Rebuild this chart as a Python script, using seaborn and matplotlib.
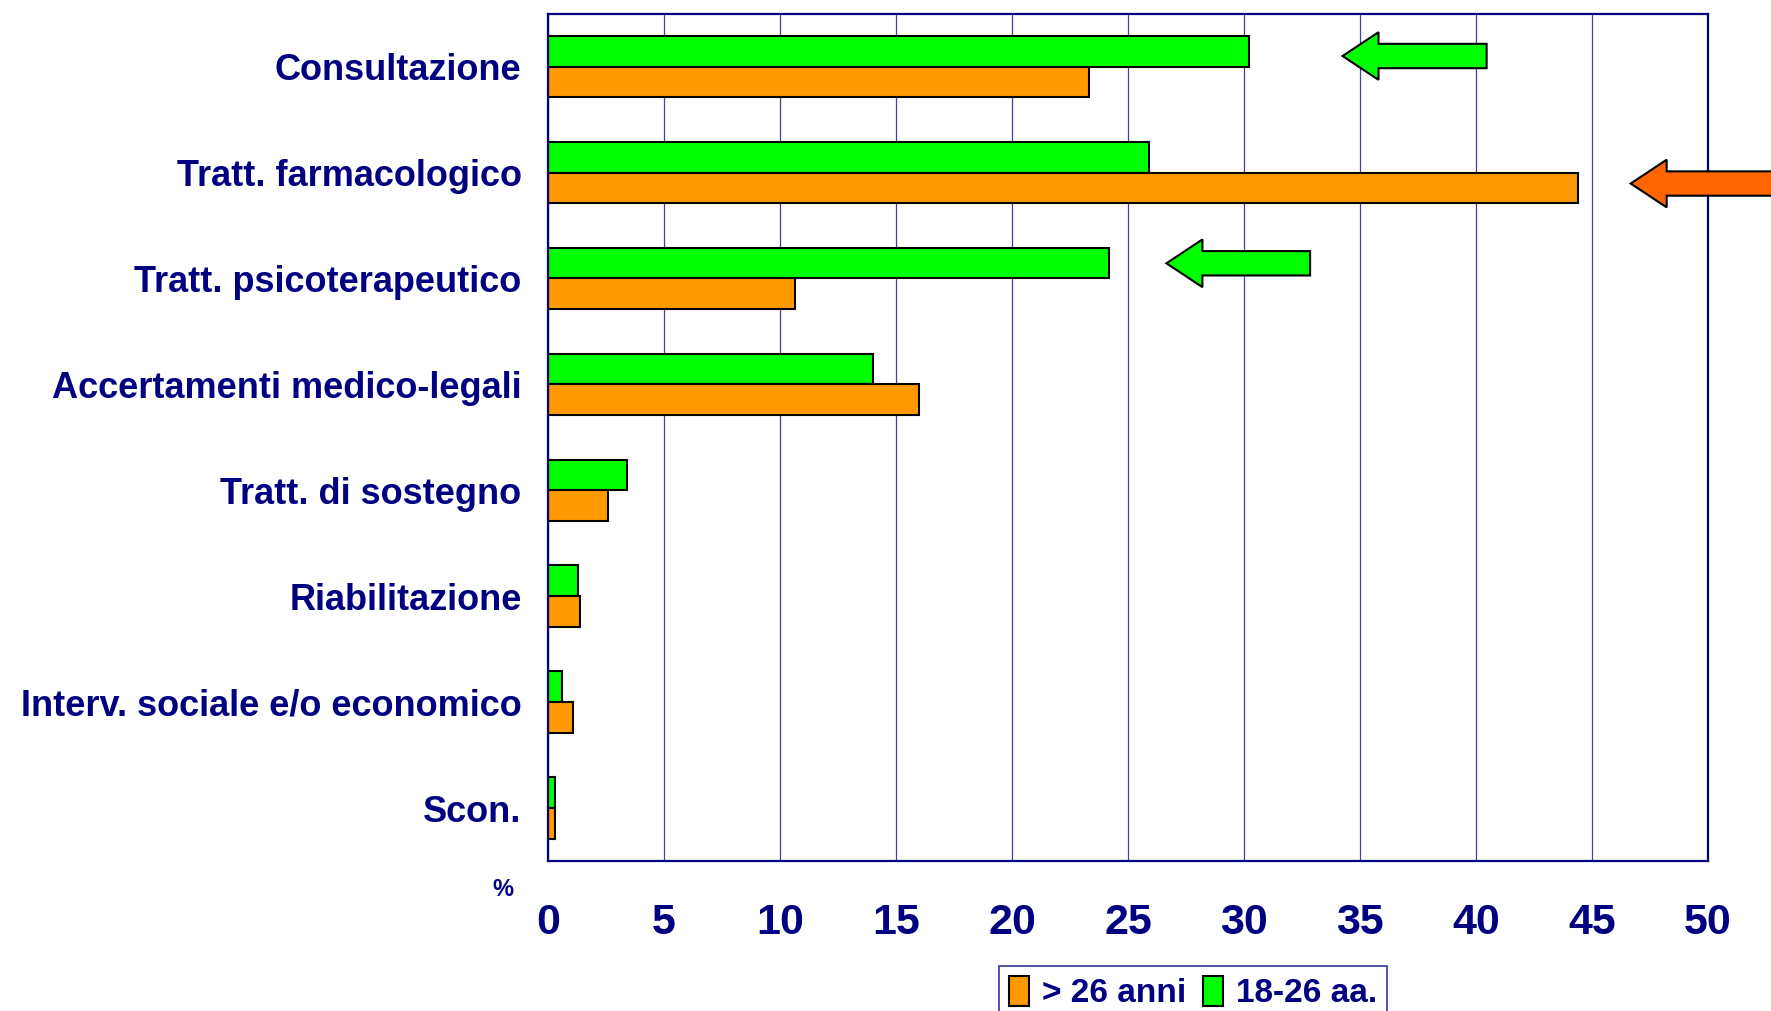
import matplotlib
matplotlib.use('Agg')
from matplotlib import pyplot as plt
from matplotlib.patches import FancyArrow, Patch
import seaborn as sns
import pandas as pd

categorie = ['Consultazione', 'Tratt. farmacologico', 'Tratt. psicoterapeutico',
             'Accertamenti medico-legali', 'Tratt. di sostegno', 'Riabilitazione',
             'Interv. sociale e/o economico', 'Scon.']
giovani = [30.2, 25.9, 24.2, 14.0, 3.4, 1.3, 0.6, 0.3]    # 18-26 aa.
adulti = [23.3, 44.4, 10.65, 16.0, 2.6, 1.4, 1.1, 0.3]    # > 26 anni
gruppi = ['18-26 aa.', '> 26 anni']
xticks = [0, 5, 10, 15, 20, 25, 30, 35, 40, 45, 50]

NAVY = '#000080'
colori = {'18-26 aa.': '#00FF00', '> 26 anni': '#FF9900'}

df = pd.DataFrame({
    'categoria': categorie * 2,
    'valore': giovani + adulti,
    'gruppo': [gruppi[0]] * len(categorie) + [gruppi[1]] * len(categorie),
})

sns.set_style('white')
plt.rcParams['font.family'] = ['Liberation Sans', 'DejaVu Sans']

fig = plt.figure(figsize=(17.71, 10.11), dpi=100)
ax = fig.add_axes([0.3094, 0.1484, 0.6550, 0.8381])

sns.barplot(data=df, y='categoria', x='valore', hue='gruppo', hue_order=gruppi,
            palette=colori, orient='h', width=0.58, edgecolor='black',
            linewidth=1.5, saturation=1, legend=False, ax=ax)

ax.set_xlim(0, 50)
ax.set_ylim(7.5, -0.5)
ax.set_xticks(xticks)
ax.set_xlabel('')
ax.set_ylabel('')
ax.xaxis.grid(True, color=NAVY, lw=0.9, alpha=0.75)
ax.set_axisbelow(True)
for s in ax.spines.values():
    s.set_color(NAVY)
    s.set_linewidth(1.6)
    s.set_visible(True)

ax.tick_params(axis='y', length=0, pad=19, labelsize=26, labelcolor=NAVY)
ax.tick_params(axis='x', length=0, pad=30, labelsize=31, labelcolor=NAVY)
for t in ax.get_yticklabels() + ax.get_xticklabels():
    t.set_fontweight('bold')

# frecce
frecce = [
    (40.46, -0.10, 34.25, '#00FF00'),
    (56.0, 1.104, 46.67, '#FF6600'),
    (32.85, 1.857, 26.66, '#00FF00'),
]
for x0, y0, x1, c in frecce:
    ax.add_patch(FancyArrow(x0, y0, x1 - x0, 0, width=0.23, head_width=0.45,
                            head_length=1.55, length_includes_head=True,
                            facecolor=c, edgecolor='black', lw=1.5,
                            clip_on=False, zorder=5))

fig.text(0.2838, 0.12, '%', color=NAVY, fontsize=17, fontweight='bold',
         ha='center', va='center')

handles = [Patch(facecolor=colori['> 26 anni'], edgecolor='black', lw=1.5),
           Patch(facecolor=colori['18-26 aa.'], edgecolor='black', lw=1.5)]
leg = fig.legend(handles, ['> 26 anni', '18-26 aa.'], loc='upper center',
                 bbox_to_anchor=(0.6737, 0.0445), ncol=2, frameon=True,
                 fancybox=False, handlelength=0.6, handleheight=1.0,
                 handletextpad=0.4, columnspacing=0.5, borderpad=0.3,
                 borderaxespad=0,
                 prop={'weight': 'bold', 'size': 24})
leg.get_frame().set_edgecolor(NAVY)
leg.get_frame().set_linewidth(1.2)
for t in leg.get_texts():
    t.set_color(NAVY)

fig.savefig('out.png', dpi=100)
